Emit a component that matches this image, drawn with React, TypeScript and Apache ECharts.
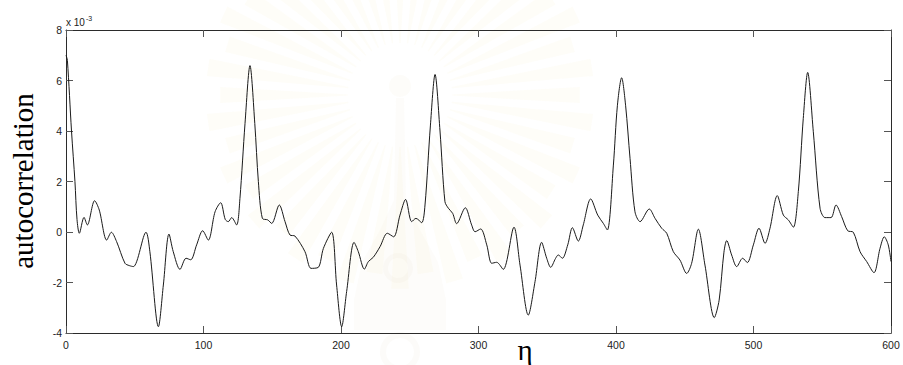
import React, { useEffect, useRef } from "react";
import * as echarts from "echarts";

// lag (eta) and autocorrelation samples, autocorrelation in units of 1e-3
const lag: number[] = [
  0, 1, 4, 6.5, 8, 9.7, 13.1, 15.5, 20.8, 24.2, 29.6, 33, 36.8, 42.9, 46, 49,
  58.2, 61, 67.2, 70.8, 74.9, 78, 82.9, 87.3, 90.7, 95, 99.4, 103.5, 108.4,
  112.5, 115.8, 118, 120.5, 124.1, 126.5, 130.2, 133.8, 137.3, 139.9, 142.8,
  146.7, 149.6, 155.1, 159.3, 162.9, 166.5, 173.8, 178.2, 183.5, 187.2, 193.2,
  196.8, 200.5, 204.1, 209.5, 212.6, 217, 219.9, 223.5, 228.4, 233.7, 238.3,
  242.9, 247, 251.4, 254.5, 258.7, 261.1, 265, 268.4, 272, 275.6, 278.1,
  281.2, 284.1, 290.4, 295, 297.5, 301.6, 306, 309.6, 313.2, 318, 325.8,
  330.2, 336.2, 341.1, 345.9, 349.6, 352.5, 356, 358, 361, 364.9, 368.3,
  372.6, 376.2, 381.6, 386.7, 390.8, 393.7, 398.1, 401, 404.1, 407, 410.2,
  413.8, 417.5, 424.2, 428.4, 433.2, 436.9, 441.7, 446.5, 451.4, 455, 459.9,
  464.7, 471.5, 475, 478.5, 480.5, 484.1, 487.8, 492.1, 495.5, 499.9, 504,
  508.4, 512, 517.3, 521.7, 525.3, 529, 532.6, 536.2, 539.4, 543.5, 548.4,
  552, 556.4, 560, 564.1, 568.5, 572.6, 577.5, 582.3, 587.6, 592, 595.1, 598,
  600,
];

const autocorr: number[] = [
  7.0, 6.8, 4.0, 2.0, 0.5, -0.05, 0.58, 0.28, 1.24, 0.87, -0.32, -0.01, -0.38,
  -1.24, -1.33, -1.37, -0.01, -0.78, -3.75, -2.1, -0.08, -0.78, -1.48, -1.04,
  -1.1, -0.51, 0.05, -0.32, 0.8, 1.16, 0.5, 0.41, 0.57, 0.28, 1.33, 4.3, 6.59,
  4.3, 2.0, 0.54, 0.48, 0.34, 1.07, 0.41, -0.12, -0.16, -0.78, -1.44, -1.4,
  -0.65, -0.01, -2.1, -3.75, -2.36, -0.41, -0.78, -1.47, -1.17, -1.0, -0.58,
  -0.05, -0.19, 0.67, 1.29, 0.41, 0.54, 0.37, 1.07, 4.2, 6.24, 4.0, 1.2, 0.94,
  0.74, 0.33, 0.96, 0.28, 0.01, 0.12, -0.51, -1.24, -1.2, -1.48, 0.19, -1.31,
  -3.29, -1.97, -0.41, -1.04, -1.4, -1.05, -0.91, -1.04, -0.51, 0.17, -0.36,
  0.28, 1.31, 0.67, 0.34, 0.08, 2.65, 5.0, 6.11, 5.0, 2.92, 0.8, 0.41, 0.91,
  0.54, 0.15, -0.05, -0.78, -1.11, -1.64, -1.24, 0.11, -1.31, -3.39, -2.7,
  -0.8, -0.34, -0.91, -1.37, -1.04, -1.21, -0.51, 0.15, -0.45, 0.15, 1.44,
  0.67, 0.48, 0.19, 1.6, 4.5, 6.32, 3.97, 0.94, 0.57, 0.57, 1.07, 0.61, 0.05,
  -0.01, -0.78, -1.17, -1.61, -0.65, -0.19, -0.51, -1.17,
];

const xTicks: number[] = [0, 100, 200, 300, 400, 500, 600];
const yTicks: number[] = [-4, -2, 0, 2, 4, 6, 8];

const W = 903;
const H = 365;

// faint emblem watermark behind the plot: sunburst rays, a white disc and a stupa outline
function watermark(): any[] {
  const cx = 400;
  const cy = 95;
  const items: any[] = [];
  const n = 44;
  for (let i = 0; i < n; i++) {
    const a = (i / n) * Math.PI * 2;
    const r0 = 52;
    const r1 = 180 + (i % 2) * 14;
    const half = 0.045;
    const pts = [
      [cx + Math.cos(a - 0.012) * r0, cy + Math.sin(a - 0.012) * r0],
      [cx + Math.cos(a - half) * r1, cy + Math.sin(a - half) * r1],
      [cx + Math.cos(a + half) * r1, cy + Math.sin(a + half) * r1],
      [cx + Math.cos(a + 0.012) * r0, cy + Math.sin(a + 0.012) * r0],
    ];
    items.push({
      type: "polygon",
      z: -5,
      silent: true,
      shape: { points: pts },
      style: { fill: "rgba(240, 228, 178, 0.09)" },
    });
  }
  items.push({
    type: "circle",
    z: -4,
    silent: true,
    shape: { cx, cy, r: 52 },
    style: { fill: "#ffffff" },
  });
  // stupa
  items.push({
    type: "circle",
    z: -3,
    silent: true,
    shape: { cx, cy: 86, r: 11 },
    style: { fill: "rgba(225, 215, 180, 0.08)" },
  });
  items.push({
    type: "polygon",
    z: -3,
    silent: true,
    shape: {
      points: [
        [396, 98], [404, 98], [406, 200], [420, 230], [438, 262], [446, 300],
        [446, 330], [354, 330], [354, 300], [362, 262], [380, 230], [394, 200],
      ],
    },
    style: { fill: "rgba(215, 208, 175, 0.06)" },
  });
  items.push({
    type: "ring",
    z: -3,
    silent: true,
    shape: { cx, cy: 352, r: 20, r0: 14 },
    style: { fill: "rgba(215, 208, 175, 0.08)" },
  });
  items.push({
    type: "ring",
    z: -3,
    silent: true,
    shape: { cx: 398, cy: 268, r: 15, r0: 10 },
    style: { fill: "rgba(215, 208, 175, 0.08)" },
  });
  return items;
}

const axisColor = "#2b2b2b";
const labelStyle = {
  color: "#222",
  fontFamily: "'Liberation Sans', Arial, sans-serif",
  fontSize: 10.5,
};

export default function App() {
  const ref = useRef<HTMLDivElement>(null);

  useEffect(() => {
    if (!ref.current) return;
    const chart = echarts.init(ref.current, undefined, { renderer: "svg" });
    const points = lag.map((x, i) => [x, autocorr[i]]);

    const xBase = {
      type: "value",
      min: xTicks[0],
      max: xTicks[xTicks.length - 1],
      interval: 100,
      splitLine: { show: false },
      axisLine: { show: true, onZero: false, lineStyle: { color: axisColor, width: 1 } },
      axisTick: { show: true, inside: true, length: 7, lineStyle: { color: "#555" } },
    };
    const yBase = {
      type: "value",
      min: yTicks[0],
      max: yTicks[yTicks.length - 1],
      interval: 2,
      splitLine: { show: false },
      axisLine: { show: true, onZero: false, lineStyle: { color: axisColor, width: 1 } },
      axisTick: { show: true, inside: true, length: 7, lineStyle: { color: "#555" } },
    };

    chart.setOption({
      animation: false,
      backgroundColor: "#ffffff",
      grid: { left: 66, right: 12, top: 30, bottom: 32 },
      xAxis: [
        {
          ...xBase,
          position: "bottom",
          axisLabel: { ...labelStyle, margin: 6 },
        },
        {
          ...xBase,
          position: "top",
          axisLabel: { show: false },
        },
      ],
      yAxis: [
        {
          ...yBase,
          position: "left",
          axisLabel: { ...labelStyle, margin: 4 },
        },
        {
          ...yBase,
          position: "right",
          axisLabel: { show: false },
        },
      ],
      graphic: [
        ...watermark(),
        {
          type: "text",
          x: 66,
          y: 22,
          style: {
            text: "{b|x 10}{s|-3}",
            verticalAlign: "middle",
            rich: {
              b: { fontSize: 10, fontFamily: "'Liberation Sans', Arial, sans-serif", fill: "#222" },
              s: {
                fontSize: 7,
                fontFamily: "'Liberation Sans', Arial, sans-serif",
                fill: "#222",
                verticalAlign: "bottom",
                padding: [0, 0, 8, 1],
              },
            },
          },
        },
        {
          type: "text",
          x: 23,
          y: 181,
          rotation: Math.PI / 2,
          style: {
            text: "autocorrelation",
            fontFamily: "'Liberation Serif', 'Times New Roman', serif",
            fontSize: 29,
            fill: "#000",
            align: "center",
            verticalAlign: "middle",
          },
        },
        {
          type: "text",
          x: 525,
          y: 350,
          style: {
            text: "η",
            fontFamily: "'Liberation Serif', 'Times New Roman', serif",
            fontSize: 29,
            fill: "#000",
            align: "center",
            verticalAlign: "middle",
          },
        },
      ],
      series: [
        {
          type: "line",
          xAxisIndex: 0,
          yAxisIndex: 0,
          data: points,
          showSymbol: false,
          smooth: 0.3,
          lineStyle: { color: "#1a1a1a", width: 1 },
          z: 3,
        },
      ],
    });

    return () => chart.dispose();
  }, []);

  return (
    <div
      ref={ref}
      style={{ position: "absolute", left: 0, top: 0, width: W, height: H }}
    />
  );
}
